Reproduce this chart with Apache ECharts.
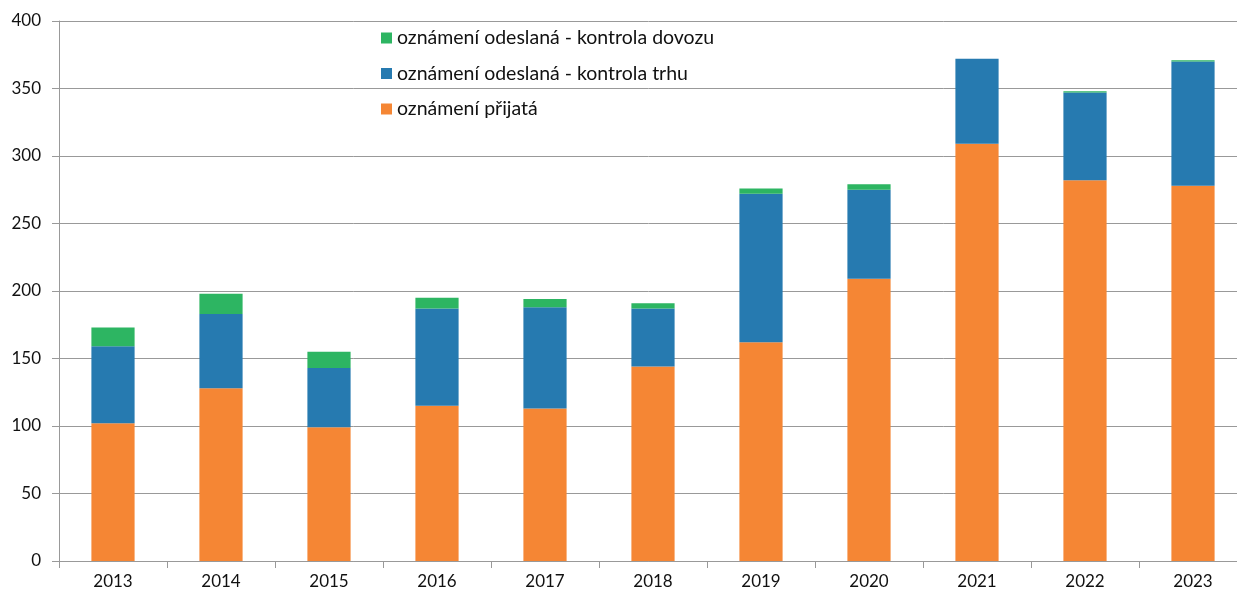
<!DOCTYPE html>
<html>
<head>
<meta charset="utf-8">
<script src="https://cdn.jsdelivr.net/npm/echarts@6/dist/echarts.min.js"></script>
<style>
	html,body{margin:0;padding:0;background:#fff;}
	#container{width:1237px;height:592px;}
</style>
</head>
<body>
<div id="container"></div>
<script>
// roky a hodnoty
var years = ['2013','2014','2015','2016','2017','2018','2019','2020','2021','2022','2023'];
var prijata = [102,128,99,115,113,144,162,209,309,282,278];
var kontrolaTrhu = [57,55,44,72,75,43,110,66,63,65,92];
var kontrolaDovozu = [14,15,12,8,6,4,4,4,0,1,1];

var nameDovoz = 'oznámení odeslaná - kontrola dovozu';
var nameTrh = 'oznámení odeslaná - kontrola trhu';
var namePrijata = 'oznámení přijatá';

var font = 'Lato, "Open Sans", sans-serif';

var myChart = echarts.init(document.getElementById('container'));
var option = {
	animation : false,
	textStyle : { fontFamily: font },
	legend : {
		orient: 'vertical',
		left: 381,
		top: 28,
		padding: 0,
		itemWidth: 11,
		itemHeight: 11,
		itemGap: 15.5,
		icon: 'rect',
		textStyle: { fontFamily: font, fontSize: 19.5, color: '#111' },
		data: [nameDovoz, nameTrh, namePrijata]
	},
	grid : { left: 59, width: 1188, top: 21, bottom: 31, containLabel: false, outerBoundsMode: 'none' },
	xAxis : [{
		type : 'category',
		data : years,
		axisLine : { lineStyle: { color: '#999', width: 1 } },
		axisTick : { show: true, interval: 0, length: 7, lineStyle: { color: '#999' } },
		axisLabel : { margin: 12, fontSize: 17, color: '#111', fontFamily: font }
	}],
	yAxis : [{
		type : 'value',
		min : 0,
		max : 400,
		interval : 50,
		axisLine : { show: true, lineStyle: { color: '#999', width: 1 } },
		axisTick : { show: true, length: 7, lineStyle: { color: '#999' } },
		axisLabel : { margin: 18, fontSize: 17, color: '#111', fontFamily: font },
		splitLine : { lineStyle: { color: '#999', width: 1 } }
	}],
	series : [{
		name: namePrijata,
		type: 'bar',
		stack: 'celkem',
		barWidth: '40%',
		itemStyle: { color: '#f58634' },
		data: prijata
	},
	{
		name: nameTrh,
		type: 'bar',
		stack: 'celkem',
		itemStyle: { color: '#267ab0' },
		data: kontrolaTrhu
	},
	{
		name: nameDovoz,
		type: 'bar',
		stack: 'celkem',
		itemStyle: { color: '#2db562' },
		data: kontrolaDovozu
	}]
};
myChart.setOption(option);
</script>
</body>
</html>
